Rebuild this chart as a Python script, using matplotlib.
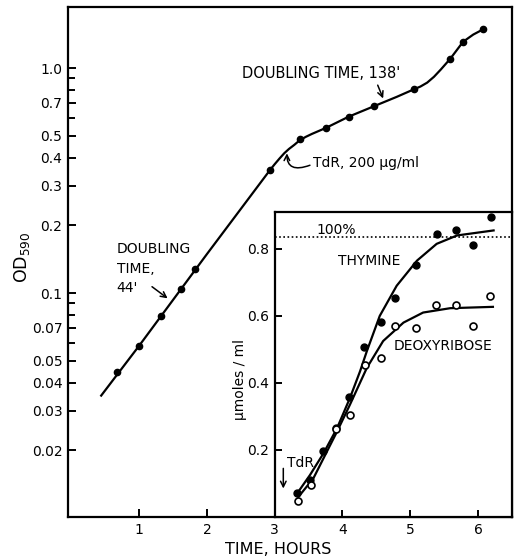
import matplotlib
matplotlib.use("Agg")
import matplotlib.pyplot as plt
import matplotlib.transforms as mtransforms
from matplotlib.ticker import FixedLocator, FixedFormatter, NullFormatter

plt.rcParams['font.family'] = ['DejaVu Sans']

# main panel: OD590 against time (hours)
od_hours = [0.67, 1.0, 1.32, 1.62, 1.83, 2.93, 3.37, 3.76, 4.09, 4.47, 5.05, 5.59, 5.78, 6.08]
od_values = [0.0444, 0.0583, 0.0791, 0.1038, 0.1274, 0.352, 0.482, 0.543, 0.608, 0.678,
             0.804, 1.10, 1.31, 1.49]
# hand drawn curve through the points
od_fit_hours = [0.44, 1.0, 2.0, 2.93, 3.00, 3.07, 3.14, 3.21, 3.29, 3.37, 3.46, 3.55, 3.66,
                3.76, 4.09, 4.47, 4.80, 5.05, 5.15, 5.25, 5.35, 5.45, 5.59, 5.78, 5.93, 6.08]
od_fit_values = [0.035, 0.0583, 0.149, 0.352, 0.374, 0.396, 0.418, 0.437, 0.456, 0.478,
                 0.495, 0.51, 0.527, 0.543, 0.608, 0.678, 0.745, 0.804, 0.828, 0.862, 0.915,
                 0.985, 1.10, 1.31, 1.41, 1.49]

od_major = [0.02, 0.03, 0.04, 0.05, 0.07, 0.1, 0.2, 0.3, 0.4, 0.5, 0.7, 1.0]
od_major_labels = ['0.02', '0.03', '0.04', '0.05', '0.07', '0.1', '0.2', '0.3', '0.4', '0.5',
                   '0.7', '1.0']
od_minor = [0.06, 0.08, 0.09, 0.6, 0.8, 0.9]
hour_ticks = [1, 2, 3, 4, 5, 6]

# inset: µmoles/ml
thy_hours = [3.33, 3.52, 3.72, 3.91, 4.10, 4.32, 4.57, 4.77, 5.08, 5.39, 5.68, 5.93, 6.19]
thy_values = [0.072, 0.109, 0.197, 0.267, 0.357, 0.508, 0.583, 0.652, 0.752, 0.843, 0.855,
              0.813, 0.895]
dr_hours = [3.35, 3.53, 3.91, 4.11, 4.33, 4.57, 4.77, 5.08, 5.38, 5.68, 5.93, 6.18]
dr_values = [0.047, 0.094, 0.262, 0.305, 0.452, 0.473, 0.570, 0.565, 0.633, 0.632, 0.570, 0.660]
thy_fit_hours = [3.33, 3.52, 3.72, 3.92, 4.11, 4.26, 4.36, 4.55, 4.80, 5.10, 5.39, 5.69, 6.23]
thy_fit_values = [0.07, 0.125, 0.19, 0.265, 0.355, 0.435, 0.495, 0.60, 0.69, 0.765, 0.815,
                  0.84, 0.855]
dr_fit_hours = [3.35, 3.57, 3.92, 4.11, 4.36, 4.60, 4.90, 5.19, 5.59, 6.22]
dr_fit_values = [0.06, 0.115, 0.255, 0.335, 0.445, 0.525, 0.58, 0.61, 0.623, 0.627]
full_level = 0.835
inset_ticks = [0.2, 0.4, 0.6, 0.8]

fig = plt.figure(figsize=(5.15, 5.58), dpi=100)
ax = fig.add_axes([0.132, 0.0735, 0.862, 0.914])

ax.plot(od_fit_hours, od_fit_values, color='black', lw=1.6)
ax.plot(od_hours, od_values, 'o', color='black', ms=4.5)

ax.set_yscale('log')
ax.set_xlim(-0.05, 6.5)
ax.set_ylim(0.0101, 1.87)
ax.yaxis.set_major_locator(FixedLocator(od_major))
ax.yaxis.set_major_formatter(FixedFormatter(od_major_labels))
ax.yaxis.set_minor_locator(FixedLocator(od_minor))
ax.yaxis.set_minor_formatter(NullFormatter())
ax.set_xticks(hour_ticks)
ax.tick_params(which='both', direction='in', width=1.4, labelsize=10, pad=4)
ax.tick_params(which='major', length=6)
ax.tick_params(which='minor', length=5)
for s in ax.spines.values():
    s.set_linewidth(1.6)

ax.set_xlabel('TIME, HOURS', fontsize=11.5)
ax.xaxis.set_label_coords(0.473, -0.05)
ax.set_ylabel(r'OD$_{\mathregular{590}}$', fontsize=12.5)
ax.yaxis.set_label_coords(-0.082, 0.508)

# annotations on the growth curve
ax.text(0.67, 0.1686, "DOUBLING\nTIME,\n44'", fontsize=10, va='top', ha='left', linespacing=1.5)
ax.annotate('', xy=(1.42, 0.0947), xytext=(1.19, 0.1067),
            arrowprops=dict(arrowstyle='->', lw=1.1, color='black', shrinkA=0, shrinkB=0))
ax.text(2.52, 0.95, "DOUBLING TIME, 138'", fontsize=10.5, va='center', ha='left')
ax.annotate('', xy=(4.60, 0.733), xytext=(4.52, 0.84),
            arrowprops=dict(arrowstyle='->', lw=1.1, color='black', shrinkA=0, shrinkB=0))
ax.text(3.56, 0.377, 'TdR, 200 µg/ml', fontsize=10, va='center', ha='left')
ax.annotate('', xy=(3.18, 0.418), xytext=(3.52, 0.37),
            arrowprops=dict(arrowstyle='->', lw=1.1, color='black', shrinkA=0, shrinkB=0,
                            connectionstyle='angle3,angleA=20,angleB=90'))

# inset placed on the main time axis, from 3 h to the right edge
trans = mtransforms.blended_transform_factory(ax.transData, ax.transAxes)
ins = ax.inset_axes([3.0, 0.0, 3.5, 0.598], transform=trans)
ins.set_facecolor('white')
ins.plot(thy_fit_hours, thy_fit_values, color='black', lw=1.6)
ins.plot(dr_fit_hours, dr_fit_values, color='black', lw=1.6)
ins.plot(thy_hours, thy_values, 'o', color='black', ms=5)
ins.plot(dr_hours, dr_values, 'o', mfc='white', mec='black', mew=1.2, ms=5)
ins.axhline(full_level, color='black', lw=1.2, ls=(0, (1, 1.5)))
ins.set_xlim(3.0, 6.5)
ins.set_ylim(0, 0.91)
ins.set_yticks(inset_ticks)
ins.set_yticklabels(['0.2', '0.4', '0.6', '0.8'])
ins.set_xticks([4, 5, 6])
ins.tick_params(direction='in', width=1.4, length=5, labelsize=10, pad=4, labelbottom=False)
for s in ins.spines.values():
    s.set_linewidth(1.6)
ins.set_ylabel('µmoles / ml', fontsize=10)
ins.yaxis.set_label_coords(-0.115, 0.45)

ins.text(3.61, 0.855, '100%', fontsize=10, va='center', ha='left')
ins.text(3.94, 0.765, 'THYMINE', fontsize=10, va='center', ha='left')
ins.text(4.76, 0.51, 'DEOXYRIBOSE', fontsize=10, va='center', ha='left')
ins.text(3.18, 0.16, 'TdR', fontsize=10, va='center', ha='left')
ins.annotate('', xy=(3.127, 0.085), xytext=(3.127, 0.145),
             arrowprops=dict(arrowstyle='->', lw=1.1, color='black', shrinkA=0, shrinkB=0))

fig.savefig('out.png', dpi=100)
